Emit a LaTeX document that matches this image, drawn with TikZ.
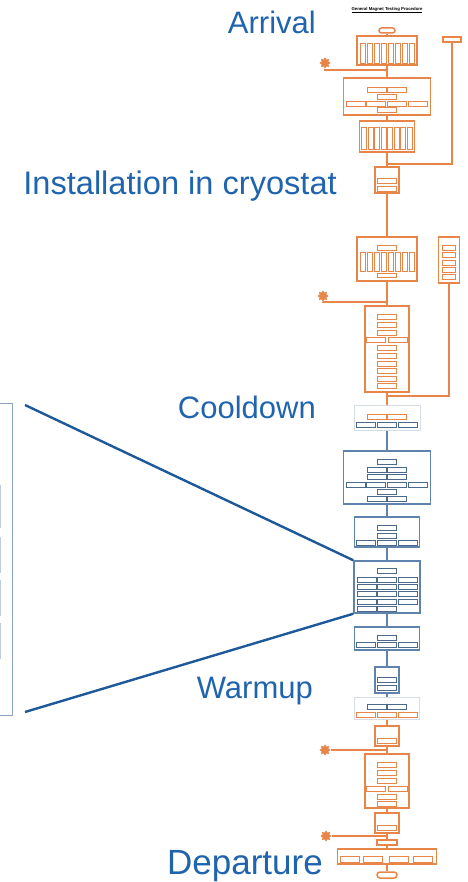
\documentclass[tikz,border=0pt]{standalone}
\usepackage{fontspec}
\setmainfont{Liberation Sans}
\usetikzlibrary{positioning, shapes.geometric, calc}
\definecolor{flow}{HTML}{E8864A}
\definecolor{steel}{HTML}{5E83AC}
\definecolor{pale}{HTML}{D6DDE6}
\definecolor{heading}{HTML}{2164AE}
\definecolor{zoomline}{HTML}{1D5898}
\definecolor{panel}{HTML}{8AA5C4}
\tikzset{
  frame/.style={draw=flow, line width=1.5pt, fill=white, inner sep=0pt},
  cell/.style={draw=flow, line width=0.9pt, fill=white, inner sep=0pt, minimum width=19, minimum height=5},
  rib/.style={cell, minimum width=5, minimum height=#1},
  bframe/.style={frame, draw=steel},
  bcell/.style={cell, draw=steel!80!black},
  pframe/.style={frame, draw=pale, line width=1pt},
  wire/.style={draw=flow, line width=1.4pt},
  bwire/.style={draw=steel, line width=1.4pt},
  gear/.style={star, star points=8, star point ratio=1.5, fill=flow, draw=flow, line width=0.6pt, inner sep=0pt, minimum size=10},
  stage/.style={font=\fontsize{#1}{#1}\selectfont, text=heading, anchor=base east, inner sep=0pt},
  stage/.default=31,
}

\begin{document}
\begin{tikzpicture}[x=1pt, y=-1pt]
  \useasboundingbox (0,0) rectangle (467,882);
  \clip (0,0) rectangle (467,882);
  \def\sx{387}

  \node[stage] (arrival) at (316,34) {Arrival};
  \node[stage=32.6] (install) at (337,195) {Installation in cryostat};
  \node[stage] (cooldown) at (316,418) {Cooldown};
  \node[stage] (warmup) at (313,698) {Warmup};
  \node[stage=35] (departure) at (323,874) {Departure};
  \node[font=\fontsize{4.3}{5}\selectfont\bfseries, inner sep=0pt] (title) at (\sx,10) {\underline{General Magnet Testing Procedure}};

  \node[draw=panel, line width=1.2pt, anchor=north east, minimum width=60, minimum height=312] (panel) at (12.7,403) {};
  \foreach \y/\h [count=\k] in {485/42, 537/35, 580/35, 623/35}
    \node[draw=panel!55, line width=0.8pt, anchor=north east, minimum width=30, minimum height=\h] (slot-\k) at (0.7,\y) {};

  \node[frame, rounded corners=2.5pt, minimum width=16, minimum height=5] (start) at (\sx,30.5) {};
  \node[frame, minimum width=60, minimum height=29] (recv) at (\sx,50.5) {};
  \foreach \i in {0,...,7}
    \node[rib=20] (recv-\i) at ({\sx+(\i-3.5)*7},53) {};

  \node[frame, minimum width=87, minimum height=37] (inspect) at (\sx,96.5) {};
  \node[cell] (inspect-a) at (376.5,89.5) {};
  \node[cell] (inspect-b) at (397,89.5) {};
  \node[cell] (inspect-c) at (\sx,96.5) {};
  \foreach \x [count=\k] in {355.5, 376, 397, 417.5}
    \node[cell] (inspect-r\k) at (\x,103.5) {};
  \node[cell] (inspect-d) at (\sx,109.5) {};

  \node[frame, minimum width=55, minimum height=31] (prep) at (\sx,136.5) {};
  \foreach \i in {0,...,7}
    \node[rib=22] (prep-\i) at ({\sx+(\i-3.5)*6.5},138.5) {};

  \node[frame, line width=1.2pt, minimum width=18, minimum height=5] (spec) at (452,39.5) {};

  \node[frame, minimum width=24, minimum height=26] (mount) at (\sx,180) {};
  \node[cell] (mount-a) at (\sx,180.5) {};
  \node[cell] (mount-b) at (\sx,188.5) {};

  \node[frame, minimum width=60, minimum height=44] (assy) at (\sx,259) {};
  \node[cell] (assy-a) at (\sx,247.5) {};
  \foreach \i in {0,...,7}
    \node[rib=19] (assy-\i) at ({\sx+(\i-3.5)*7},261.5) {};
  \node[cell, minimum height=4.5] (assy-b) at (\sx,275.5) {};

  \node[frame, minimum width=21, minimum height=46] (check) at (449,260) {};
  \foreach \y [count=\k] in {248, 255, 262.5, 269.5, 277}
    \node[cell, minimum width=13] (check-\k) at (449,\y) {};

  \node[frame, minimum width=44, minimum height=86] (cryo) at (\sx,349) {};
  \foreach \y [count=\k] in {317, 325, 332.5, 347.5, 355.5, 363.5, 370.5, 378.5, 385.5}
    \node[cell] (cryo-\k) at (\sx,\y) {};
  \node[cell] (cryo-l) at (376,340) {};
  \node[cell] (cryo-r) at (397.5,340) {};

  \node[gear] (tool1) at (325,63) {};
  \node[gear] (tool2) at (323,296) {};
  \coordinate (join0) at (\sx,70);
  \coordinate (join1) at (\sx,164);
  \coordinate (join2) at (\sx,302);
  \coordinate (join3) at (\sx,396);

  \node[pframe, minimum width=66, minimum height=25] (cool) at (\sx,417.5) {};
  \node[cell] (cool-a) at (376.5,416.5) {};
  \node[cell] (cool-b) at (397,416.5) {};
  \foreach \x [count=\k] in {365.5, 387, 407.5}
    \node[bcell] (cool-r\k) at (\x,424.5) {};

  \node[bframe, minimum width=87, minimum height=53] (pump) at (\sx,477.5) {};
  \node[bcell] (pump-a) at (\sx,461.5) {};
  \foreach \y [count=\k] in {469.5, 476.5, 498.5} {
    \node[bcell] (pump-l\k) at (376.5,\y) {};
    \node[bcell] (pump-r\k) at (397,\y) {};
  }
  \foreach \x [count=\k] in {355.5, 376, 397, 417.5}
    \node[bcell] (pump-w\k) at (\x,484.5) {};
  \node[bcell] (pump-b) at (\sx,491.5) {};

  \node[bframe, minimum width=65, minimum height=30] (chill) at (\sx,532) {};
  \node[bcell] (chill-a) at (\sx,527.5) {};
  \node[bcell] (chill-b) at (\sx,535.5) {};
  \foreach \x [count=\k] in {365.5, 387, 407.5}
    \node[bcell] (chill-r\k) at (\x,542.5) {};

  \node[bframe, minimum width=66, minimum height=52] (tests) at (\sx,587) {};
  \node[bcell] (tests-a) at (\sx,571) {};
  \foreach \y in {579.5, 586.5, 593.5, 601.5}
    \foreach \x [count=\k] in {366.5, 387, 407.5}
      \node[bcell] (tests-\y-\k) at (\x,\y) {};
  \node[bcell] (tests-b) at (366.5,608.5) {};
  \node[bcell] (tests-c) at (\sx,608.5) {};

  \node[bframe, minimum width=65, minimum height=23] (quench) at (\sx,638.5) {};
  \node[bcell] (quench-a) at (\sx,637.5) {};
  \foreach \x [count=\k] in {365.5, 387, 407.5}
    \node[bcell] (quench-r\k) at (\x,644.5) {};

  \node[bframe, minimum width=24, minimum height=26] (final) at (\sx,680) {};
  \node[bcell] (final-a) at (\sx,679.5) {};
  \node[bcell] (final-b) at (\sx,687.5) {};

  \node[pframe, minimum width=65, minimum height=22] (warm) at (\sx,708) {};
  \node[bcell] (warm-a) at (376.5,707) {};
  \node[bcell] (warm-b) at (397,707) {};
  \foreach \x [count=\k] in {365.5, 387, 407.5}
    \node[cell] (warm-r\k) at (\x,715) {};

  \node[frame, minimum width=24, minimum height=20] (open) at (\sx,736) {};
  \node[cell] (open-a) at (\sx,740.5) {};

  \node[frame, minimum width=44, minimum height=54] (extract) at (\sx,781) {};
  \foreach \y [count=\k] in {765, 772.5, 780.5, 796.5, 803.5}
    \node[cell] (extract-\k) at (\sx,\y) {};
  \node[cell] (extract-l) at (376,788.5) {};
  \node[cell] (extract-r) at (397.5,788.5) {};

  \node[frame, minimum width=24, minimum height=20] (post) at (\sx,823) {};
  \node[cell] (post-a) at (\sx,827.5) {};

  \node[gear] (tool3) at (325,750) {};
  \node[gear] (tool4) at (326,836) {};
  \coordinate (join4) at (\sx,750);
  \coordinate (join5) at (\sx,836);

  \node[frame, line width=1.2pt, minimum width=20, minimum height=5] (pack) at (\sx,842.5) {};
  \node[frame, minimum width=99, minimum height=15] (ship) at (\sx,856.5) {};
  \foreach \x [count=\k] in {349.5, 373, 399, 423}
    \node[cell, minimum height=6] (ship-\k) at (\x,859) {};
  \node[frame, rounded corners=3pt, minimum width=20, minimum height=6] (stop) at (\sx,875) {};

  \draw[wire] (start) -- (recv);
  \draw[wire] (recv) -- (inspect);
  \draw[wire] (inspect) -- (prep);
  \draw[wire] (prep) -- (mount);
  \draw[wire] (mount) -- (assy);
  \draw[wire] (assy) -- (cryo);
  \draw[wire] (cryo) -- (cool);
  \draw[wire] (tool1) |- (join0);
  \draw[wire] (tool2) |- (join2);
  \draw[wire] (spec) |- (join1);
  \draw[wire] (check) |- (join3);
  \draw[bwire] (cool) -- (pump);
  \draw[bwire] (pump) -- (chill);
  \draw[bwire] (chill) -- (tests);
  \draw[bwire] (tests) -- (quench);
  \draw[bwire] (quench) -- (final);
  \draw[bwire] (final) -- (warm);
  \draw[wire] (warm) -- (open);
  \draw[wire] (open) -- (extract);
  \draw[wire] (extract) -- (post);
  \draw[wire] (post) -- (pack);
  \draw[wire] (pack) -- (ship);
  \draw[wire] (ship) -- (stop);
  \draw[wire] (tool3) -- (join4);
  \draw[wire] (tool4) -- (join5);

  \coordinate (zoomtop) at (25,405);
  \coordinate (zoombot) at (25,712);
  \draw[zoomline, line width=2.4pt] (zoomtop) -- (tests.north west);
  \draw[zoomline, line width=2.4pt] (zoombot) -- (tests.south west);
\end{tikzpicture}
\end{document}
